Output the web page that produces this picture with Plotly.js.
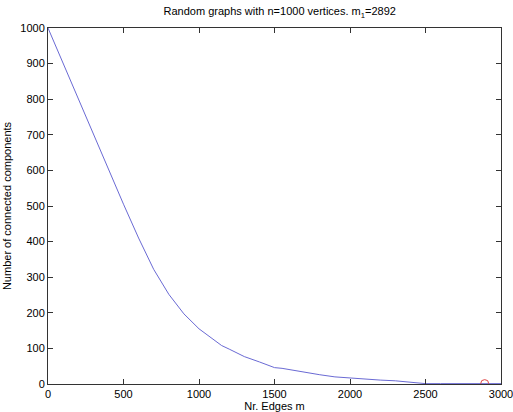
<!DOCTYPE html>
<html>
<head>
<meta charset="utf-8">
<script src="https://cdn.plot.ly/plotly-3.0.1.min.js"></script>
<style>html,body{margin:0;padding:0;background:#fff;}#chart{width:513px;height:412px;}</style>
</head>
<body>
<div id="chart"></div>
<script>
const edges = [0, 100, 200, 300, 400, 500, 600, 700, 800, 900, 1000, 1050, 1100, 1150, 1200, 1300, 1400, 1450, 1500, 1550, 1600, 1700, 1800, 1900, 2000, 2100, 2200, 2300, 2400, 2450, 2500, 2600, 2700, 2800, 2900, 3000];
const components = [1000, 900, 800, 701, 602, 505, 410, 322, 252, 197, 155, 140, 124, 108, 98, 77, 62, 54, 46, 44, 40, 32, 26, 20, 17, 12, 11, 9, 6, 3, 1, 1, 1, 1, 1, 1];
const connectEdge = [2892];
const connectComp = [1];
const xTicks = [0, 500, 1000, 1500, 2000, 2500, 3000];
const yTicks = [0, 100, 200, 300, 400, 500, 600, 700, 800, 900, 1000];

const fam = 'Liberation Sans, Arial, sans-serif';
const font = {family: fam, size: 11, color: '#000'};
const axisCommon = {
  showgrid: false, zeroline: false, showline: true, mirror: 'ticks',
  linecolor: '#333', linewidth: 1, ticks: 'inside', ticklen: 5, tickcolor: '#333',
  tickfont: font, ticklabeloverflow: 'allow'
};

Plotly.newPlot('chart', [
  {x: edges, y: components, type: 'scatter', mode: 'lines',
   line: {color: '#6a6ad4', width: 1}, hoverinfo: 'skip'},
  {x: connectEdge, y: connectComp, type: 'scatter', mode: 'markers',
   marker: {symbol: 'circle-open', size: 8, color: '#e04848', line: {width: 1, color: '#e04848'}}}
], {
  width: 513, height: 412,
  margin: {l: 48, r: 12, t: 28, b: 28},
  paper_bgcolor: '#fff', plot_bgcolor: '#fff',
  showlegend: false,
  title: {text: 'Random graphs with n=1000 vertices. m<sub>1</sub>=2892', font: {family: fam, size: 11, color: '#000'}, x: 0.5453, xanchor: 'center', y: 0.972, yanchor: 'middle'},
  xaxis: Object.assign({}, axisCommon, {range: [0, 3000], tickvals: xTicks, ticktext: xTicks.map(String),
    title: {text: 'Nr. Edges m', font: {family: fam, size: 11, color: '#000'}, standoff: 2}}),
  yaxis: Object.assign({}, axisCommon, {range: [0, 1000], tickvals: yTicks, ticktext: yTicks.map(String),
    title: {text: 'Number of connected components', font: {family: fam, size: 11, color: '#000'}, standoff: 6}})
}, {staticPlot: true});
</script>
</body>
</html>
